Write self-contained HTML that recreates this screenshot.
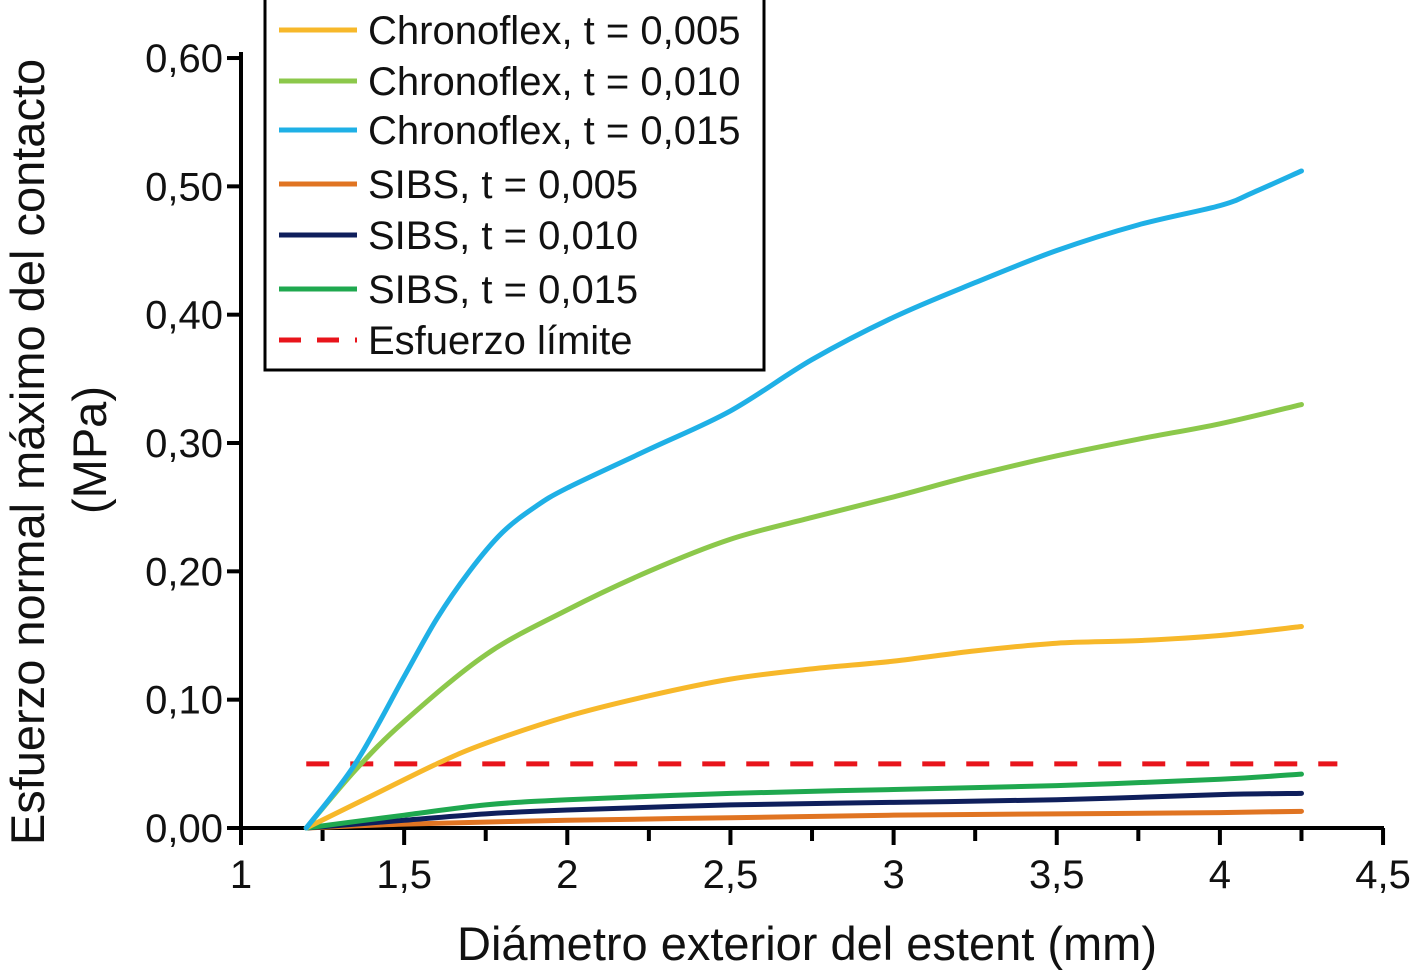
<!DOCTYPE html>
<html><head><meta charset="utf-8"><style>
body{margin:0;background:#fff}
svg text{font-family:"Liberation Sans",Arial,sans-serif;fill:#111}
</style></head><body>
<svg width="1410" height="971" id="c">
</svg>
<script>
const xTicks=[1,1.5,2,2.5,3,3.5,4,4.5];
const xTickLabels=["1","1,5","2","2,5","3","3,5","4","4,5"];
const yTicks=[0,0.1,0.2,0.3,0.4,0.5,0.6];
const yTickLabels=["0,00","0,10","0,20","0,30","0,40","0,50","0,60"];
const seriesNames=["Chronoflex, t = 0,005","Chronoflex, t = 0,010","Chronoflex, t = 0,015","SIBS, t = 0,005","SIBS, t = 0,010","SIBS, t = 0,015"];
const seriesColors=["#f7b82a","#8cc84b","#1fb0e6","#e07422","#0f1f5c","#1fa84f"];
const cfx005X=[1.2,1.4,1.6,1.75,2.0,2.25,2.5,2.75,3.0,3.25,3.5,3.75,4.0,4.25];
const cfx005Y=[0,0.025,0.05,0.066,0.087,0.103,0.116,0.124,0.13,0.138,0.144,0.146,0.15,0.157];
const cfx010X=[1.2,1.35,1.5,1.75,2.0,2.25,2.5,2.75,3.0,3.25,3.5,3.75,4.0,4.25];
const cfx010Y=[0,0.045,0.083,0.135,0.17,0.2,0.225,0.242,0.258,0.275,0.29,0.303,0.315,0.33];
const cfx015X=[1.2,1.35,1.5,1.6,1.7,1.8,1.9,2.0,2.25,2.5,2.75,3.0,3.25,3.5,3.75,4.0,4.1,4.25];
const cfx015Y=[0,0.05,0.118,0.163,0.2,0.23,0.25,0.265,0.295,0.325,0.365,0.398,0.425,0.45,0.47,0.485,0.495,0.512];
const sibs005X=[1.2,1.5,2.0,2.5,3.0,3.5,4.0,4.25];
const sibs005Y=[0,0.003,0.006,0.008,0.01,0.011,0.012,0.013];
const sibs010X=[1.2,1.5,1.75,2.0,2.5,3.0,3.5,4.0,4.25];
const sibs010Y=[0,0.006,0.011,0.014,0.018,0.02,0.022,0.026,0.027];
const sibs015X=[1.2,1.5,1.75,2.0,2.5,3.0,3.5,4.0,4.25];
const sibs015Y=[0,0.01,0.018,0.022,0.027,0.03,0.033,0.038,0.042];
const limitValue=0.05, limitStart=1.2, limitEnd=4.36;

const NS="http://www.w3.org/2000/svg",svg=document.getElementById('c');
const X0=241,XU=326.3,Y0=828,YU=1283.3;
const sx=v=>X0+(v-1)*XU, sy=v=>Y0-v*YU;
function mk(t,a,p){const e=document.createElementNS(NS,t);for(const k in a)e.setAttribute(k,a[k]);(p||svg).appendChild(e);return e;}
function smooth(xs,ys){const p=xs.map((x,i)=>[sx(x),sy(ys[i])]);let d=`M${p[0][0]},${p[0][1]}`;
for(let i=0;i<p.length-1;i++){const a=p[Math.max(0,i-1)],b=p[i],c=p[i+1],e=p[Math.min(p.length-1,i+2)];
d+=` C${b[0]+(c[0]-a[0])/6},${b[1]+(c[1]-a[1])/6} ${c[0]-(e[0]-b[0])/6},${c[1]-(e[1]-b[1])/6} ${c[0]},${c[1]}`;}return d;}
let e=mk('line',{x1:X0,y1:52,x2:X0,y2:Y0+2,stroke:'#000','stroke-width':4});

e=mk('line',{x1:227,y1:Y0,x2:1384,y2:Y0,stroke:'#000','stroke-width':4});

for(let v=1;v<=4.5001;v+=0.25){e=mk('line',{x1:sx(v),y1:Y0,x2:sx(v),y2:Y0+(Math.abs(v*2-Math.round(v*2))<1e-6?17:13),stroke:'#000','stroke-width':4});
}
xTicks.forEach((v,i)=>{e=mk('text',{x:sx(v),y:888,'text-anchor':'middle','font-size':40});e.textContent=xTickLabels[i];
});
yTicks.forEach((v,i)=>{e=mk('line',{x1:X0-14,y1:sy(v),x2:X0,y2:sy(v),stroke:'#000','stroke-width':4});

e=mk('text',{x:X0-18,y:sy(v)+14,'text-anchor':'end','font-size':40});e.textContent=yTickLabels[i];
});
e=mk('text',{x:807,y:960,'text-anchor':'middle','font-size':47});e.textContent="Diámetro exterior del estent (mm)";

e=mk('text',{x:0,y:0,'text-anchor':'middle','font-size':47,transform:'translate(44,452) rotate(-90)'});e.textContent="Esfuerzo normal máximo del contacto";

e=mk('text',{x:0,y:0,'text-anchor':'middle','font-size':47,transform:'translate(106,450) rotate(-90)'});e.textContent="(MPa)";

e=mk('line',{x1:sx(limitStart),y1:sy(limitValue),x2:sx(limitEnd),y2:sy(limitValue),stroke:'#e8141b','stroke-width':5,'stroke-dasharray':'23,21'});

const data=[[cfx005X,cfx005Y],[cfx010X,cfx010Y],[cfx015X,cfx015Y],[sibs005X,sibs005Y],[sibs010X,sibs010Y],[sibs015X,sibs015Y]];
[3,4,5,0,1,2].forEach(i=>{e=mk('path',{d:smooth(data[i][0],data[i][1]),fill:'none',stroke:seriesColors[i],'stroke-width':5,'stroke-linecap':'round'});
});
const lg=mk('g',{});

mk('rect',{x:265,y:-2,width:499,height:372,fill:'#fff',stroke:'#000','stroke-width':3},lg);
const ly=[30,81,130,184,235,289,340];
seriesNames.concat(["Esfuerzo límite"]).forEach((n,i)=>{const g=mk('g',{},lg);

if(i<6)mk('line',{x1:279,y1:ly[i],x2:357,y2:ly[i],stroke:seriesColors[i],'stroke-width':5},g);
else mk('line',{x1:279,y1:ly[i],x2:357,y2:ly[i],stroke:'#e8141b','stroke-width':5,'stroke-dasharray':'22,16'},g);
const t=mk('text',{x:368,y:ly[i]+14,'font-size':40},g);t.textContent=n;});
</script>
</body></html>
